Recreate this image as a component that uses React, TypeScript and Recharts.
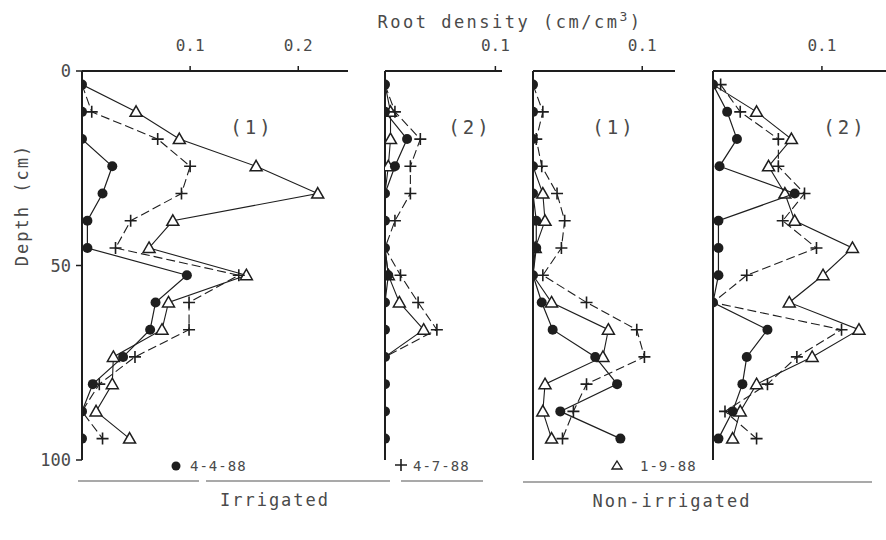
import { ScatterChart, Scatter, XAxis, YAxis } from "recharts";

// sampling depths (cm), midpoints of 7 cm layers
const depths = [3.5, 10.5, 17.5, 24.5, 31.5, 38.5, 45.5, 52.5, 59.5, 66.5, 73.5, 80.5, 87.5, 94.5];

// Irrigated (1)
const irr1Apr = [0, 0, 0, 0.028, 0.019, 0.005, 0.005, 0.097, 0.068, 0.063, 0.038, 0.01, 0, 0];
const irr1Jul = [0, 0.009, 0.07, 0.1, 0.092, 0.045, 0.031, 0.145, 0.099, 0.099, 0.049, 0.016, 0, 0.019];
const irr1Sep = [0, 0.05, 0.09, 0.161, 0.218, 0.084, 0.062, 0.152, 0.08, 0.074, 0.029, 0.028, 0.013, 0.044];

// Irrigated (2)
const irr2Apr = [0, 0, 0.02, 0.009, 0, 0, 0, 0.003, 0, 0, 0, 0, 0, 0];
const irr2Jul = [0, 0.009, 0.032, 0.023, 0.023, 0.009, 0, 0.014, 0.03, 0.047, 0, 0, 0, 0];
const irr2Sep = [0, 0.005, 0.005, 0.003, 0, 0, 0, 0.003, 0.013, 0.035, 0, 0, 0, 0];

// Non-irrigated (1)
const non1Apr = [0, 0, 0, 0, 0, 0.003, 0.003, 0, 0.008, 0.018, 0.057, 0.077, 0.025, 0.08];
const non1Jul = [0, 0.009, 0.003, 0.008, 0.022, 0.029, 0.026, 0.009, 0.049, 0.095, 0.102, 0.049, 0.037, 0.027];
const non1Sep = [0, 0, 0, 0, 0.009, 0.011, 0.002, 0, 0.017, 0.069, 0.064, 0.011, 0.009, 0.017];

// Non-irrigated (2)
const non2Apr = [0, 0.013, 0.022, 0.006, 0.075, 0.005, 0.005, 0.005, 0, 0.05, 0.031, 0.027, 0.018, 0.005];
const non2Jul = [0.007, 0.025, 0.06, 0.06, 0.084, 0.064, 0.095, 0.031, 0, 0.118, 0.077, 0.05, 0.011, 0.04];
const non2Sep = [0, 0.04, 0.072, 0.051, 0.066, 0.075, 0.128, 0.101, 0.07, 0.134, 0.091, 0.04, 0.025, 0.018];

const depthTicks = [0, 50, 100];

const FONT = "'DejaVu Sans Mono', monospace";
const INK = "#1e1e1e";
const TXT = "#4a4a4a";

const toPoints = (vals: number[]) => vals.map((v, i) => ({ v, d: depths[i] }));

const DotShape = (p: any) => <circle cx={p.cx} cy={p.cy} r={5} fill={INK} />;

const CrossShape = (p: any) => {
	if (!p.payload || p.payload.v === 0) return <g />;
	const s = 6;
	return (
		<path
			d={`M${p.cx - s},${p.cy}H${p.cx + s}M${p.cx},${p.cy - s}V${p.cy + s}`}
			stroke={INK}
			strokeWidth={1.6}
			fill="none"
		/>
	);
};

const TriShape = (p: any) => {
	if (!p.payload || p.payload.v === 0) return <g />;
	const s = 6;
	return (
		<polygon
			points={`${p.cx},${p.cy - s} ${p.cx + s},${p.cy + s * 0.75} ${p.cx - s},${p.cy + s * 0.75}`}
			fill="#fff"
			stroke={INK}
			strokeWidth={1.5}
		/>
	);
};

type PanelProps = {
	left: number;
	plotWidth: number;
	yWidth: number;
	rightPad: number;
	xMax: number;
	xTicks: number[];
	apr: number[];
	jul: number[];
	sep: number[];
	yLabels?: boolean;
};

const Panel = ({ left, plotWidth, yWidth, rightPad, xMax, xTicks, apr, jul, sep, yLabels }: PanelProps) => (
	<div style={{ position: "absolute", left, top: 0 }}>
		<ScatterChart
			width={yWidth + plotWidth + rightPad}
			height={475}
			margin={{ top: 0, right: rightPad, bottom: 15, left: 0 }}
		>
			<XAxis
				type="number"
				dataKey="v"
				orientation="top"
				domain={[0, xMax]}
				ticks={xTicks}
				allowDataOverflow
				height={71}
				tickSize={5}
				tickMargin={15}
				tickFormatter={(v: number) => v.toFixed(1)}
				axisLine={{ stroke: INK, strokeWidth: 2 }}
				tickLine={{ stroke: INK, strokeWidth: 1.5 }}
				tick={{ fill: TXT, fontSize: 16, fontFamily: FONT }}
			/>
			<YAxis
				type="number"
				dataKey="d"
				domain={[0, 100]}
				reversed
				ticks={depthTicks}
				width={yWidth}
				tickSize={6}
				tickMargin={5}
				axisLine={{ stroke: INK, strokeWidth: 2 }}
				tickLine={{ stroke: INK, strokeWidth: 1.5 }}
				tick={yLabels ? { fill: TXT, fontSize: 17, fontFamily: FONT } : false}
			/>
			<Scatter
				data={toPoints(sep)}
				line={{ stroke: INK, strokeWidth: 1.1 }}
				lineType="joint"
				shape={TriShape}
				isAnimationActive={false}
			/>
			<Scatter
				data={toPoints(jul)}
				line={{ stroke: INK, strokeWidth: 1.1, strokeDasharray: "9 4" }}
				lineType="joint"
				shape={CrossShape}
				isAnimationActive={false}
			/>
			<Scatter
				data={toPoints(apr)}
				line={{ stroke: INK, strokeWidth: 1.2 }}
				lineType="joint"
				shape={DotShape}
				isAnimationActive={false}
			/>
		</ScatterChart>
	</div>
);

const textStyle = { fontFamily: FONT, fill: TXT };

export default function App() {
	return (
		<div style={{ position: "absolute", left: 0, top: 0, width: 886, height: 540, background: "#fff", overflow: "hidden" }}>
			<Panel left={0} plotWidth={266} yWidth={82} rightPad={0} xMax={0.246} xTicks={[0.1, 0.2]} apr={irr1Apr} jul={irr1Jul} sep={irr1Sep} yLabels />
			<Panel left={375} plotWidth={117} yWidth={10} rightPad={16} xMax={0.106} xTicks={[0.1]} apr={irr2Apr} jul={irr2Jul} sep={irr2Sep} />
			<Panel left={523} plotWidth={142} yWidth={10} rightPad={0} xMax={0.13} xTicks={[0.1]} apr={non1Apr} jul={non1Jul} sep={non1Sep} />
			<Panel left={703} plotWidth={183} yWidth={10} rightPad={0} xMax={0.168} xTicks={[0.1]} apr={non2Apr} jul={non2Jul} sep={non2Sep} />
			<svg width={886} height={540} style={{ position: "absolute", left: 0, top: 0, pointerEvents: "none" }}>
				<text x={510} y={28} textAnchor="middle" fontSize={17} letterSpacing={2.5} {...textStyle}>
					Root density (cm/cm<tspan dy={-7} fontSize={13}>3</tspan>
					<tspan dy={7}>)</tspan>
				</text>
				<text x={22} y={205} textAnchor="middle" fontSize={17} letterSpacing={2} transform="rotate(-90 22 205)" dominantBaseline="central" {...textStyle}>
					Depth (cm)
				</text>
				<text x={252} y={134} textAnchor="middle" fontSize={19} letterSpacing={3} {...textStyle}>(1)</text>
				<text x={470} y={134} textAnchor="middle" fontSize={19} letterSpacing={3} {...textStyle}>(2)</text>
				<text x={614} y={134} textAnchor="middle" fontSize={19} letterSpacing={3} {...textStyle}>(1)</text>
				<text x={845} y={134} textAnchor="middle" fontSize={19} letterSpacing={3} {...textStyle}>(2)</text>

				<circle cx={176} cy={466} r={4.5} fill={INK} />
				<text x={190} y={471} fontSize={14} letterSpacing={1} {...textStyle}>4-4-88</text>
				<path d="M395,465H407M401,459V471" stroke={INK} strokeWidth={1.6} />
				<text x={413} y={471} fontSize={14} letterSpacing={1} {...textStyle}>4-7-88</text>
				<polygon points="617,461 622,469 612,469" fill="#fff" stroke={INK} strokeWidth={1.4} />
				<text x={640} y={471} fontSize={14} letterSpacing={1} {...textStyle}>1-9-88</text>

				<g stroke="#555" strokeWidth={1.2}>
					<line x1={78} y1={481} x2={199} y2={481} />
					<line x1={206} y1={481} x2={390} y2={481} />
					<line x1={401} y1={481} x2={483} y2={481} />
					<line x1={523} y1={482} x2={872} y2={482} />
				</g>
				<text x={275} y={506} textAnchor="middle" fontSize={17} letterSpacing={2} {...textStyle}>Irrigated</text>
				<text x={672} y={507} textAnchor="middle" fontSize={17} letterSpacing={2} {...textStyle}>Non-irrigated</text>
			</svg>
		</div>
	);
}
